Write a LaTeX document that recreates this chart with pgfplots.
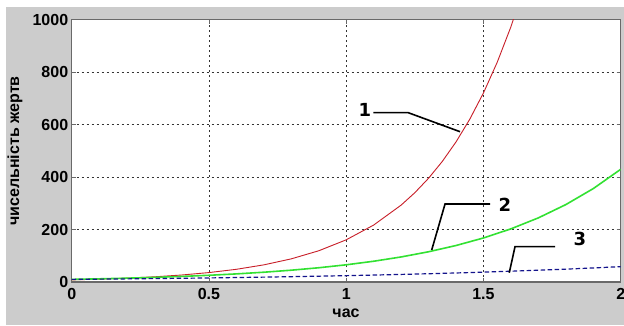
\documentclass[border=0pt]{standalone}
\usepackage{pgfplots}
\pgfplotsset{compat=1.18}
\usepackage{fontspec}
\setmainfont{Liberation Sans}
\newfontfamily\dv{DejaVu Sans}
\definecolor{bggray}{RGB}{204,204,204}
\definecolor{framegray}{RGB}{105,105,105}
\definecolor{mred}{RGB}{200,30,40}
\definecolor{mgreen}{RGB}{50,225,50}
\definecolor{mblue}{RGB}{20,20,140}
\begin{document}
\begin{tikzpicture}[x=1pt,y=1pt]
\useasboundingbox (0,0) rectangle (624,325);
\fill[white] (0,0) rectangle (624,325);
\fill[bggray] (6,0) rectangle (624,318);
\begin{axis}[
  at={(71.7pt,43pt)}, anchor=south west,
  scale only axis, width=549pt, height=262.5pt,
  xmin=0, xmax=2, ymin=0, ymax=1000,
  xtick={0,0.5,1,1.5,2}, ytick={0,200,400,600,800,1000},
  /pgf/number format/1000 sep={},
  /pgf/number format/assume math mode=true,
  axis background/.style={fill=white},
  axis line style={draw=framegray, line width=1.2pt},
  tick align=inside, major tick length=4pt,
  tick style={draw=framegray, line width=0.8pt},
  grid=major,
  major grid style={draw=black!80, line width=0.7pt, dash pattern=on 2.5pt off 2.5pt},
  ticklabel style={font=\fontsize{16}{16}\selectfont\bfseries},
  xticklabel style={yshift=-3pt},
  yticklabel style={xshift=0pt},
  clip=true,
]
\addplot[mred, line width=0.9pt] coordinates {
(0,8.0) (0.1,10.8) (0.2,14.6) (0.3,19.7) (0.4,26.6) (0.5,35.9) (0.6,48.4)
(0.7,65.3) (0.8,88.2) (0.9,119.0) (1.0,160.7) (1.1,216.9) (1.2,292.8)
(1.25,340.2) (1.3,395.2) (1.35,459.2) (1.4,533.5) (1.45,619.9) (1.5,720.1)
(1.55,836.7) (1.6,972.1) (1.65,1129.4) (1.7,1312)
};
\addplot[mgreen, line width=1.6pt] coordinates {
(0,10) (0.1,12.07) (0.2,14.56) (0.3,17.58) (0.4,21.21) (0.5,25.60) (0.6,30.89)
(0.7,37.28) (0.8,44.99) (0.9,54.30) (1.0,65.53) (1.1,79.08) (1.2,95.43)
(1.3,115.17) (1.4,138.99) (1.5,167.73) (1.6,202.42) (1.7,244.28) (1.8,294.80)
(1.9,355.77) (2.0,429.34)
};
\addplot[mblue, line width=1.2pt, dash pattern=on 4.5pt off 2.5pt] coordinates {
(0,10) (0.1,10.9) (0.2,11.9) (0.3,13.0) (0.4,14.2) (0.5,15.5) (0.6,17.0)
(0.7,18.6) (0.8,20.3) (0.9,22.2) (1.0,24.2) (1.1,26.4) (1.2,28.9) (1.3,31.5)
(1.4,34.4) (1.5,37.6) (1.6,41.1) (1.7,44.9) (1.8,49.0) (1.9,53.5) (2.0,58.5)
};
\draw[black, line width=1.6pt] (axis cs:1.099,645) -- (axis cs:1.226,645) -- (axis cs:1.4146,572.6);
\draw[black, line width=1.6pt] (axis cs:1.524,297) -- (axis cs:1.360,297) -- (axis cs:1.3115,122);
\draw[black, line width=1.6pt] (axis cs:1.761,134.5) -- (axis cs:1.615,134.5) -- (axis cs:1.594,35.4);
\node[font=\dv\fontsize{18}{18}\selectfont\bfseries] at (axis cs:1.0685,655) {1};
\node[font=\dv\fontsize{18}{18}\selectfont\bfseries] at (axis cs:1.578,293) {2};
\node[font=\dv\fontsize{18}{18}\selectfont\bfseries] at (axis cs:1.851,163) {3};
\end{axis}
\node[font=\fontsize{16}{16}\selectfont\bfseries] at (346,12) {час};
\node[font=\fontsize{16}{16}\selectfont\bfseries, rotate=90] at (15,174) {чисельність жертв};
\end{tikzpicture}
\end{document}
